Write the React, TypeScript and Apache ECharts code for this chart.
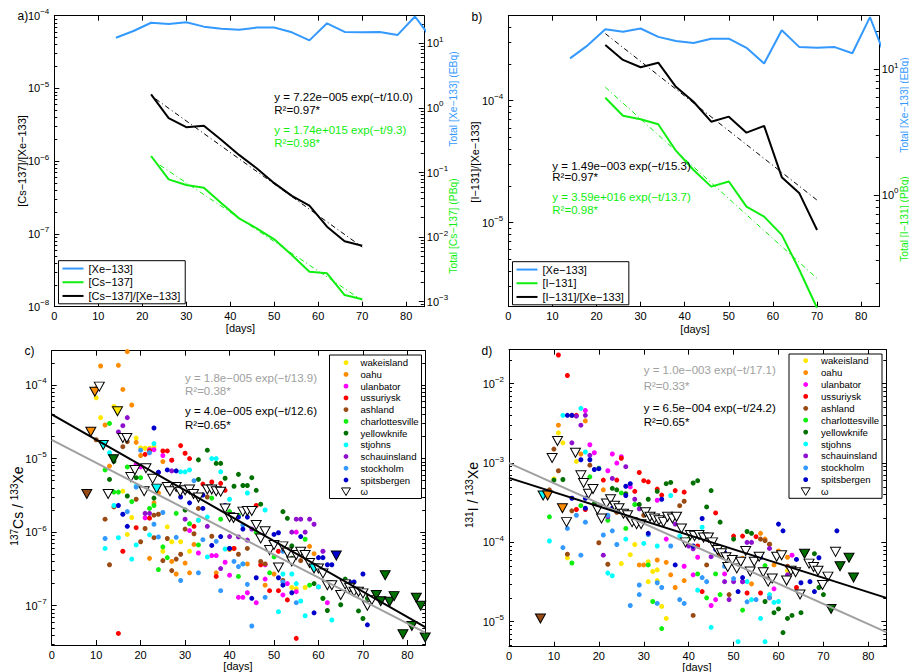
import React, { useEffect, useRef } from 'react';
import * as echarts from 'echarts';

const FONT = '"Liberation Sans", Arial, Helvetica, sans-serif';
const BLUE = '#3399FF';
const GREEN = '#10EE10';
const GRAY = '#A0A0A0';

// ---------- panels a / b ----------
const xeDays = [14, 18, 22, 26, 30, 34, 38, 42, 46, 50, 54, 58, 62, 66, 70, 74, 78, 82, 86];
const xe133 = [12.2, 15.5, 20.8, 19.9, 21.1, 18.1, 16.8, 16.2, 17.5, 17.5, 14.8, 11.1, 20.4, 15.0, 14.8, 15.0, 13.4, 26.0, 11.2];
const ratioDays = [22, 26, 30, 34, 38, 42, 46, 50, 54, 58, 62, 66, 70];
const cs137 = [0.18, 0.0783, 0.0641, 0.0582, 0.0333, 0.0195, 0.01368, 0.00925, 0.00528, 0.00292, 0.00275, 0.00127, 0.00109];
const csRatio = [8.3e-6, 3.9e-6, 2.93e-6, 3.08e-6, 1.96e-6, 1.22e-6, 8.0e-7, 4.99e-7, 3.34e-7, 2.45e-7, 1.26e-7, 7.96e-8, 6.9e-8];
const i131 = [5.94, 4.27, 4.0, 3.65, 2.25, 1.58, 1.165, 1.28, 0.808, 0.672, 0.481, 0.253, 0.126];
const iRatio = [2.86e-4, 2.16e-4, 1.88e-4, 2.05e-4, 1.3e-4, 9.8e-5, 6.73e-5, 7.4e-5, 5.47e-5, 6.21e-5, 2.36e-5, 1.74e-5, 8.7e-6];
const csRatioFit = [[23, 7.2e-6], [70, 6.6e-8]];
const csFit = [[24, 0.13], [70, 0.00105]];
const iRatioFit = [[22, 3.55e-4], [70, 1.53e-5]];
const iFit = [[22, 7.2], [70, 0.217]];

// ---------- panels c / d ----------
const stationNames = ['wakeisland', 'oahu', 'ulanbator', 'ussuriysk', 'ashland', 'charlottesville', 'yellowknife', 'stjohns', 'schauinsland', 'stockholm', 'spitsbergen'];
const stationColors = ['#FFE800', '#FF8C00', '#FF00FF', '#FF0000', '#9A4B14', '#10EE10', '#007000', '#00FFFF', '#9010D0', '#3399FF', '#0000CC'];

const wakeC = [[10, 6.7e-5], [11, 3.6e-5], [14, 5.1e-5], [19, 1.9e-5], [20, 1.4e-5], [21, 1.38e-5], [22, 1.38e-5], [23, 1.45e-5], [16, 3.6e-6], [18, 1.58e-6], [17, 9.3e-7], [26, 1.18e-6], [25, 5.5e-7], [27, 7.4e-7], [29, 7.4e-7], [31, 5.5e-7], [54, 1.77e-7], [55, 1.7e-7], [57, 1.77e-7]];
const oahuC = [[10, 9.0e-5], [11, 1.81e-4], [15, 1.85e-4], [17, 2.84e-4], [16, 8.7e-5], [18, 5.35e-5], [12, 2.86e-5], [13, 7.9e-6], [19, 1.66e-5], [20, 1.1e-5], [24, 3.4e-6], [25, 9.1e-6], [23, 2.5e-6], [22, 4.4e-7], [27, 4.0e-7], [28, 2.7e-7], [30, 3.8e-7], [31, 2.8e-7], [32, 6.8e-7], [33, 1.46e-6], [37, 2.8e-7], [40, 5.8e-7], [41, 6.0e-7], [44, 3.7e-7], [46, 1.0e-6], [48, 1.9e-7], [50, 2.7e-7], [58, 6.4e-7], [59, 5.1e-7], [61, 3.0e-7]];
const ulanC = [[19, 8.3e-6], [20, 7.7e-6], [21, 1.57e-6], [22, 1.32e-5], [23, 1.32e-5], [25, 1.1e-5], [27, 9.5e-6], [30, 3.6e-6], [31, 1.05e-6], [33, 5.2e-7], [36, 4.8e-7], [37, 4.8e-7], [39, 3.9e-7], [40, 2.6e-7], [42, 1.3e-7], [43, 1.3e-7], [44, 1.5e-7], [46, 1.1e-7], [48, 3.6e-7], [48, 2.3e-7], [52, 1.4e-7], [53, 2.0e-7], [55, 1.55e-7], [55, 1.0e-6], [60, 1.8e-7], [62, 1.1e-7]];
const ussurC = [[15, 4.2e-8], [16, 5.5e-7], [19, 1.15e-6], [21, 1.14e-5], [22, 1.27e-5], [22, 1.55e-6], [25, 1.27e-5], [26, 1.27e-5], [27, 9.5e-6], [29, 1.5e-5], [30, 1.18e-5], [31, 1.0e-5], [32, 1.2e-6], [34, 4.5e-6], [36, 4.8e-6], [38, 4.6e-6], [39, 3.7e-6], [37, 2.5e-7], [41, 6.0e-7], [46, 2.3e-6], [47, 3.6e-7], [49, 1.6e-7], [51, 1.6e-7], [53, 1.2e-7], [51, 5.5e-7], [55, 3.6e-8]];
const ashC = [[10, 1.8e-5], [12, 1.5e-6], [13, 3.6e-7], [14, 2.2e-6], [16, 1.45e-5], [17, 1.7e-5], [19, 2.8e-6], [20, 7.4e-7], [21, 1.12e-6], [23, 8.4e-7], [23, 1.7e-6], [24, 1.75e-6], [25, 4.1e-7], [26, 8.2e-7], [27, 3.0e-7], [28, 4.3e-7], [29, 5.0e-7], [30, 1.1e-6], [32, 9.5e-7], [33, 2.1e-6], [35, 3.0e-6], [36, 8.8e-7], [40, 6.0e-7], [42, 5.0e-7], [44, 6.0e-7], [47, 4.0e-7], [48, 3.7e-7], [52, 2.2e-7], [56, 4.1e-7]];
const charC = [[12, 7.0e-6], [13, 3.0e-5], [14, 3.5e-6], [15, 3.5e-6], [17, 7.7e-6], [18, 2.6e-6], [20, 5.5e-6], [22, 2.1e-6], [23, 2.3e-6], [24, 3.1e-7], [25, 6.3e-7], [26, 4.5e-7], [28, 1.8e-6], [31, 1.3e-6], [33, 6.7e-7], [36, 2.9e-6], [38, 1.5e-6], [40, 1.9e-6], [42, 1.7e-6], [42, 2.5e-7], [46, 1.0e-6], [49, 2.8e-7], [50, 4.6e-7], [57, 8.0e-7], [58, 1.9e-7], [61, 1.26e-7]];
const yellowC = [[13, 5.2e-6], [14, 9.2e-6], [17, 3.1e-6], [19, 5.5e-6], [23, 2.9e-6], [30, 2.0e-6], [33, 9.6e-6], [33, 5.2e-6], [35, 1.3e-5], [37, 8.6e-6], [38, 8.6e-6], [39, 5.4e-6], [41, 4.2e-6], [42, 6.1e-6], [43, 4.3e-6], [44, 4.3e-6], [45, 5.5e-6], [46, 3.7e-6], [47, 2.4e-6], [47, 9.0e-7], [52, 1.9e-6], [53, 1.54e-6], [54, 6.5e-7], [54, 4.4e-7], [59, 2.0e-7], [61, 1.26e-7], [62, 8.6e-8], [65, 1.03e-7], [66, 2.3e-7], [67, 2.0e-7], [69, 8.5e-8], [70, 6.7e-8], [71, 1.26e-7]];
const stjC = [[12, 6.0e-7], [13, 1.2e-5], [14, 2.3e-6], [15, 8.4e-7], [18, 4.3e-7], [19, 4.2e-6], [19, 6.7e-7], [22, 9.2e-7], [23, 1.6e-5], [26, 4.4e-6], [29, 6.6e-6], [30, 6.6e-6], [31, 7.0e-6], [33, 1.45e-6], [35, 4.6e-7], [35, 1.6e-6], [36, 1.0e-5], [37, 1.0e-5], [38, 6.6e-6], [39, 5.9e-7], [40, 2.8e-6], [43, 3.7e-7], [44, 3.4e-6], [48, 2.0e-6], [51, 8.3e-8], [52, 2.7e-7], [54, 2.7e-7], [55, 2.0e-7], [56, 1.16e-7], [57, 7.3e-8], [60, 1.8e-7], [63, 6.4e-8]];
const schauC = [[15, 2.3e-5], [16, 2.8e-5], [17, 3.6e-5], [19, 7.7e-6], [21, 1.8e-6], [22, 1.8e-6], [24, 6.5e-6], [27, 6.8e-6], [30, 1.5e-6], [35, 1.2e-6], [38, 3.2e-7], [40, 8.7e-7], [42, 8.6e-7], [44, 7.8e-7], [45, 1.1e-6], [54, 1.0e-6], [55, 1.5e-6], [56, 1.5e-6], [57, 1.0e-6], [58, 1.5e-6], [59, 1.28e-6], [61, 5.5e-7]];
const stockC = [[12, 8.2e-7], [17, 1.9e-6], [19, 4.1e-6], [20, 1.3e-5], [22, 1.2e-5], [23, 1.28e-6], [24, 8.6e-7], [25, 1.85e-6], [28, 8.5e-7], [29, 2.2e-7], [32, 5.0e-6], [33, 2.8e-7], [34, 7.9e-7], [37, 7.5e-7], [38, 1.6e-7], [41, 4.0e-7], [42, 3.4e-7], [43, 3.7e-7], [43, 1.25e-6], [44, 1.95e-7], [45, 5.3e-8], [48, 1.3e-7], [52, 2.1e-7], [52, 5.5e-7], [53, 2.9e-8], [55, 1.1e-7]];
const spitsC = [[15, 2.3e-6], [16, 1.75e-6], [17, 1.2e-6], [23, 2.6e-5], [24, 6.5e-6], [26, 7.0e-6], [28, 6.8e-6], [29, 3.0e-6], [31, 2.5e-6], [34, 3.2e-6], [34, 2.1e-6], [36, 6.6e-7], [38, 8.7e-7], [39, 2.3e-6], [40, 6.0e-7], [42, 1.6e-6], [43, 1.1e-6], [44, 1.6e-6], [45, 1.26e-7], [46, 2.4e-7], [50, 9.3e-7], [51, 9.8e-7], [51, 2.4e-7], [52, 1.9e-7], [54, 1.5e-7], [56, 8.7e-7], [59, 8.0e-8], [60, 4.5e-7], [61, 4.5e-7], [62, 3.6e-7], [63, 3.6e-7], [64, 4.8e-7], [67, 2.1e-7], [68, 2.1e-7], [70, 2.7e-7], [71, 5.5e-8]];
// [day, value, station index of the fill (-1 = none)]
const omegaC = [[7.9, 3.3e-6, 4], [9.7, 8.1e-5, 1], [10.7, 9.5e-5, -1], [8.8, 2.32e-5, 1], [11.6, 1.53e-5, 7], [12.7, 3.3e-6, -1], [13.9, 9.8e-6, 6], [14.8, 4.4e-5, 0], [16, 1.9e-5, -1], [16.9, 1.9e-5, -1], [17.8, 5.6e-6, -1], [18.7, 7.0e-6, -1], [21.2, 7.4e-6, -1], [20.8, 3.6e-6, -1], [22.7, 5.3e-6, -1], [23.6, 3.9e-6, 7], [26, 4.1e-6, -1], [26.6, 3.6e-6, -1], [28, 4.1e-6, -1], [28.9, 3.55e-6, -1], [30, 3.7e-6, -1], [31, 3.8e-6, -1], [31.9, 3.3e-6, -1], [33, 2.95e-6, -1], [35, 3.8e-6, -1], [36, 3.8e-6, -1], [37, 3.6e-6, -1], [38, 3.55e-6, -1], [39, 2.1e-6, -1], [40, 1.6e-6, -1], [40.9, 1.56e-6, -1], [43, 1.9e-6, -1], [44, 1.94e-6, -1], [45, 1.94e-6, -1], [46, 1.25e-6, -1], [47, 8.2e-7, -1], [48, 1.03e-6, -1], [49, 5.7e-7, -1], [50, 6.7e-7, -1], [51, 3.3e-7, -1], [52, 6.4e-7, -1], [53, 5.3e-7, -1], [54, 4.0e-7, -1], [55, 4.9e-7, -1], [56, 5.4e-7, -1], [57, 4.9e-7, -1], [58, 3.8e-7, -1], [59, 3.2e-7, 7], [60, 3.2e-7, -1], [61, 2.75e-7, -1], [62, 1.9e-7, -1], [63, 1.9e-7, -1], [64, 4.8e-7, 10], [65, 1.4e-7, -1], [66, 1.95e-7, -1], [67, 1.75e-7, -1], [68, 1.55e-7, -1], [69, 1.55e-7, -1], [70, 1.47e-7, -1], [71, 1.0e-7, -1], [72, 1.2e-7, -1], [73, 1.4e-7, 6], [74, 1.15e-7, 6], [75, 2.6e-7, 6], [76, 1.13e-7, 6], [77, 1.35e-7, 6], [79, 4.1e-8, 6], [81, 5.3e-8, 6], [82, 1.28e-7, 6], [83, 1.0e-7, 6], [84, 3.7e-8, 6]];
const fitGrayC = [[0, 1.8e-5], [84, 4.3e-8]];
const fitBlackC = [[0, 4.0e-5], [84, 5.1e-8]];

const wakeD = [[10, 6.3e-4], [11, 2.4e-3], [12, 1.8e-3], [13, 6.4e-5], [15, 1.05e-3], [25, 5.4e-5], [27, 7.0e-5], [28, 9.4e-5], [31, 5.7e-5], [32, 4.3e-5], [31, 3.2e-5], [33, 4.5e-5], [33, 3.3e-5], [34, 1.56e-5], [35, 1.1e-5], [62, 4.4e-5]];
const oahuD = [[11, 3.0e-3], [16, 1.3e-3], [17, 3.4e-3], [21, 4.6e-4], [29, 5.2e-5], [30, 5.2e-5], [33, 6.0e-5], [35, 5.6e-5], [36, 3.9e-5], [37, 2.7e-5], [39, 3.3e-5], [47, 7.0e-5], [52, 6.3e-5], [54, 3.0e-5], [56, 1.3e-4], [57, 1.1e-4], [58, 9.5e-5], [59, 5.2e-5], [60, 7.8e-5], [62, 6.5e-5]];
const ulanD = [[17, 4.6e-3], [18, 1.7e-3], [19, 1.35e-3], [22, 8.0e-4], [23, 1.3e-3], [24, 1.0e-3], [25, 1.2e-3], [27, 5.0e-4], [33, 3.4e-4], [35, 1.1e-4], [39, 5.0e-5], [41, 3.9e-5], [42, 6.5e-5], [45, 1.6e-5], [46, 1.9e-5], [48, 4.0e-5], [50, 4.7e-6], [52, 3.2e-5], [59, 2.6e-5], [63, 6.9e-5]];
const ussurD = [[11, 2.3e-2], [12, 2.7e-2], [13, 1.27e-2], [14, 4.0e-3], [15, 4.0e-3], [15, 2.6e-4], [17, 2.6e-4], [21, 6.1e-4], [24, 6.1e-4], [25, 1.15e-3], [28, 4.4e-4], [29, 7.6e-4], [30, 6.0e-4], [31, 5.8e-4], [33, 4.7e-4], [34, 3.95e-4], [37, 4.5e-4], [39, 4.3e-4], [42, 9.0e-5], [43, 2.4e-5], [46, 2.35e-4], [50, 1.2e-4], [52, 1.2e-4], [53, 2.3e-5], [55, 1.18e-4], [56, 2.3e-5], [58, 2.0e-5], [64, 2.7e-5]];
const ashD = [[9, 4.6e-4], [10, 1.5e-3], [11, 8.0e-4], [13, 7.1e-5], [14, 2.5e-4], [18, 9.4e-4], [20, 9.9e-5], [22, 5.3e-5], [24, 2.4e-4], [27, 1.9e-4], [30, 2.2e-4], [34, 1.9e-4], [38, 2.9e-4], [39, 3.3e-4], [41, 1.2e-5], [44, 5.2e-5], [47, 6.8e-5], [49, 2.2e-5], [56, 1.1e-4], [57, 1.05e-4], [58, 9.5e-5], [62, 5.0e-5]];
const charD = [[9, 2.1e-4], [14, 5.5e-5], [16, 2.9e-4], [18, 6.7e-4], [20, 8.6e-4], [22, 1.9e-4], [25, 4.2e-4], [26, 1.5e-4], [28, 3.0e-4], [31, 5.2e-5], [32, 1.8e-5], [34, 8.2e-6], [40, 1.1e-4], [42, 4.0e-5], [44, 2.0e-5], [46, 4.0e-5], [47, 2.2e-5], [50, 6.5e-5], [52, 1.4e-5], [57, 5.1e-5]];
const yellowD = [[10, 6.1e-4], [12, 6.2e-4], [19, 3.1e-4], [23, 4.8e-4], [24, 4.6e-4], [26, 4.1e-4], [29, 3.0e-4], [31, 3.5e-4], [33, 4.4e-4], [35, 5.5e-4], [36, 5.7e-4], [41, 5.6e-4], [42, 6.0e-4], [44, 2.8e-4], [45, 4.5e-4], [47, 1.8e-4], [50, 1.1e-4], [53, 1.37e-4], [54, 1.3e-4], [57, 1.8e-5], [59, 1.3e-5], [60, 1.45e-5], [61, 7.3e-6], [62, 1.1e-5], [63, 1.2e-5], [65, 1.3e-5], [66, 7.5e-5], [68, 7.2e-5], [69, 2.7e-5], [70, 2.2e-5]];
const stjD = [[9, 1.04e-4], [12, 4.0e-3], [16, 4.9e-3], [17, 1.38e-3], [22, 4.1e-5], [23, 3.8e-5], [26, 1.1e-4], [30, 9.7e-5], [33, 9.0e-5], [36, 3.9e-4], [38, 1.2e-4], [42, 2.5e-5], [43, 1.55e-4], [45, 8.5e-6], [51, 5.6e-6], [53, 3.2e-5], [54, 1.9e-5], [56, 1.1e-5], [57, 5.6e-6], [58, 2.2e-5], [59, 1.75e-5], [60, 1.8e-5]];
const schauD = [[14, 1.8e-3], [15, 3.9e-3], [16, 3.0e-3], [17, 4.0e-3], [18, 1.25e-3], [21, 6.9e-5], [22, 2.1e-4], [23, 6.4e-4], [24, 3.0e-4], [26, 9.0e-4], [28, 3.5e-4], [29, 2.65e-4], [37, 1.7e-4], [40, 9.0e-5], [41, 8.3e-5], [45, 6.6e-5], [48, 3.2e-5], [49, 1.9e-5], [50, 3.2e-5], [52, 3.2e-5], [53, 1.0e-4], [54, 1.0e-4], [55, 6.6e-5], [58, 8.4e-5], [62, 3.9e-5]];
const stockD = [[12, 8.6e-5], [13, 1.5e-4], [15, 2.2e-4], [16, 6.9e-5], [17, 1.8e-4], [21, 1.24e-4], [22, 2.2e-4], [23, 1.4e-4], [24, 9.4e-5], [27, 1.6e-5], [29, 2.2e-5], [29, 2.9e-5], [31, 1.25e-4], [33, 3.1e-5], [33, 1.7e-5], [34, 2.7e-5], [36, 9.0e-5], [38, 1.9e-5], [39, 1.7e-5], [43, 3.6e-5], [44, 3.2e-5], [48, 5.0e-5], [50, 3.5e-5], [53, 1.78e-5], [55, 1.9e-5], [58, 2.0e-5]];
const spitsD = [[13, 4.0e-3], [14, 4.0e-3], [14, 3.6e-4], [16, 1.1e-3], [17, 3.6e-4], [17, 2.7e-4], [18, 1.1e-3], [19, 8.3e-4], [20, 8.5e-4], [23, 2.7e-4], [26, 5.1e-4], [26, 3.9e-4], [27, 5.5e-4], [31, 1.3e-4], [34, 3.5e-4], [37, 5.2e-5], [41, 9.0e-5], [43, 2.0e-4], [46, 8.2e-5], [48, 7.5e-5], [51, 2.4e-5], [52, 3.6e-5], [56, 6.5e-5], [60, 1.7e-4], [61, 1.4e-4], [64, 6.1e-5], [65, 3.1e-5], [67, 3.2e-5], [68, 2.4e-5], [69, 6.4e-5], [73, 1.4e-4]];
const omegaD = [[7, 1.1e-5, 4], [7.6, 3.9e-4, 7], [8.6, 3.9e-4, 1], [9.6, 1.16e-3, -1], [10.8, 1.9e-3, -1], [11.9, 2.7e-4, 1], [12.8, 1.8e-4, -1], [14.8, 1.35e-3, -1], [16, 7.0e-4, -1], [16.6, 5.6e-4, -1], [17.7, 4.1e-4, -1], [18.7, 4.7e-4, -1], [19.7, 2.6e-4, -1], [20.6, 2.0e-4, -1], [21.7, 3.1e-4, -1], [22.6, 3.5e-4, -1], [23.5, 2.9e-4, -1], [24.5, 2.7e-4, -1], [25.5, 2.3e-4, -1], [26.4, 2.2e-4, -1], [27.4, 1.8e-4, -1], [28.4, 1.7e-4, -1], [29.4, 1.7e-4, -1], [30.4, 2.4e-4, -1], [31.4, 2.1e-4, -1], [32.4, 2.0e-4, -1], [33.4, 1.9e-4, -1], [34.4, 1.8e-4, -1], [35.3, 2.1e-4, -1], [36.4, 2.0e-4, -1], [37.3, 2.1e-4, -1], [38.4, 1.5e-4, -1], [39.3, 1.0e-4, -1], [40.4, 1.24e-4, -1], [41.3, 1.2e-4, -1], [42.3, 1.24e-4, -1], [43.3, 1.15e-4, -1], [44.4, 1.15e-4, -1], [45.3, 1.0e-4, -1], [46.4, 8.0e-5, -1], [47.3, 7.3e-5, -1], [48.3, 6.5e-5, -1], [48.7, 4.9e-5, -1], [49.7, 6.0e-5, -1], [50.7, 4.7e-5, -1], [51.6, 5.7e-5, -1], [52.7, 7.8e-5, -1], [53.7, 4.3e-5, -1], [54.6, 5.7e-5, -1], [55.7, 6.6e-5, -1], [56.6, 4.2e-5, -1], [57.7, 3.2e-5, -1], [58.6, 3.5e-5, -1], [59.6, 6.6e-5, -1], [60.7, 6.9e-5, -1], [61.8, 3.3e-5, -1], [62.8, 4.4e-5, -1], [63.8, 4.2e-5, -1], [64.8, 2.2e-5, -1], [65.8, 7.2e-5, 6], [66.8, 5.4e-5, -1], [67.8, 4.9e-5, -1], [68.8, 4.4e-5, -1], [69.8, 2.9e-5, -1], [71, 3.7e-5, -1], [71.7, 1.45e-5, 6], [72.7, 7.6e-5, -1], [73.7, 5.0e-5, 6], [75.7, 6.4e-5, 6], [76.7, 3.6e-5, 6]];
const fitGrayD = [[0, 1.0e-3], [84, 7.4e-6]];
const fitBlackD = [[0, 6.5e-4], [84, 2.0e-5]];

const stationsC = [wakeC, oahuC, ulanC, ussurC, ashC, charC, yellowC, stjC, schauC, stockC, spitsC];
const stationsD = [wakeD, oahuD, ulanD, ussurD, ashD, charD, yellowD, stjD, schauD, stockD, spitsD];

// ---------- helpers ----------
const zip = (xs: number[], ys: number[]) => xs.map((x, i) => [x, ys[i]]);
const p10 = (e: number) => Math.pow(10, e);

const minorTicks = (min: number, max: number) => {
  const out: number[] = [];
  const lo = Math.floor(Math.log10(min));
  const hi = Math.ceil(Math.log10(max));
  for (let e = lo; e <= hi; e++) for (let m = 2; m <= 9; m++) {
    const v = m * Math.pow(10, e);
    if (v > min && v < max) out.push(v);
  }
  return out;
};

const expLabel = (v: number) => {
  const e = Math.round(Math.log10(v));
  return '{b|10}{s|' + (e < 0 ? '\u2212' + -e : String(e)) + '}';
};
const expRich = {
  b: { fontSize: 11, fontFamily: FONT, color: '#000', lineHeight: 16 },
  s: { fontSize: 8, fontFamily: FONT, color: '#000', verticalAlign: 'top', lineHeight: 8 },
};

const axLine = { show: true, onZero: false, lineStyle: { color: '#000', width: 1 } };

const xAx = (gi: number, pos: string) => ({
  type: 'value', gridIndex: gi, position: pos, min: 0, max: 84, interval: 10,
  axisLine: axLine, splitLine: { show: false },
  axisTick: { show: true, inside: true, length: 5, lineStyle: { color: '#000' } },
  axisLabel: pos === 'bottom'
    ? { show: true, color: '#000', fontSize: 11, fontFamily: FONT, margin: 4, showMinLabel: true, showMaxLabel: false }
    : { show: false },
});

const yAx = (gi: number, pos: string, min: number, max: number, labels: boolean, edge = false) => ({
  type: 'log', logBase: 10, gridIndex: gi, position: pos, min, max,
  axisLine: axLine, splitLine: { show: false },
  axisTick: { show: true, inside: true, length: 5, lineStyle: { color: '#000' } },
  axisLabel: labels
    ? { show: true, formatter: expLabel, rich: expRich, margin: pos === 'left' ? 5 : 3, showMinLabel: edge, showMaxLabel: edge }
    : { show: false },
});

const yMinor = (gi: number, pos: string, min: number, max: number) => ({
  type: 'log', logBase: 10, gridIndex: gi, position: pos, min, max,
  axisLine: { show: false, onZero: false }, splitLine: { show: false },
  axisLabel: { show: false },
  axisTick: { show: true, inside: true, length: 3, lineStyle: { color: '#000' }, customValues: minorTicks(min, max) },
});

const lineS = (name: string, xi: number, yi: number, data: number[][], color: string, width = 2, type: any = 'solid', z = 3) => ({
  type: 'line', name, xAxisIndex: xi, yAxisIndex: yi, data, symbol: 'none', showSymbol: false,
  lineStyle: { color, width, type }, itemStyle: { color }, z, silent: true,
});

const scatterSet = (sets: number[][][], omega: number[][], xi: number, yi: number) => {
  const out: any[] = sets.map((d, i) => ({
    type: 'scatter', name: stationNames[i], xAxisIndex: xi, yAxisIndex: yi, data: d,
    symbol: 'circle', symbolSize: 5, itemStyle: { color: stationColors[i], opacity: 1 }, z: 2, silent: true,
  }));
  out.push({
    type: 'scatter', name: '\u03c9', xAxisIndex: xi, yAxisIndex: yi,
    data: omega.map(([d, v, f]) => ({ value: [d, v], itemStyle: { color: f < 0 ? '#FFFFFF' : stationColors[f] } })),
    symbol: 'triangle', symbolRotate: 180, symbolSize: [10, 9],
    itemStyle: { borderColor: '#000', borderWidth: 1, opacity: 1 }, z: 3, silent: true,
  });
  return out;
};

const txt = (x: number, y: number, text: string, o: any = {}) => ({
  type: 'text', x, y, rotation: o.rot || 0, z: 100, silent: true,
  style: {
    text, fill: o.color || '#000', fontSize: o.size || 11, fontFamily: FONT,
    align: o.align || 'left', verticalAlign: 'middle', rich: o.rich, lineHeight: o.lh,
  },
});

const scatterLegend = (left: number, top: number, w: number, h: number, mx: number, tx: number, y0: number, gap: number) => {
  const els: any[] = [{
    type: 'rect', z: 99, silent: true, shape: { x: left, y: top, width: w, height: h },
    style: { fill: '#fff', stroke: '#000', lineWidth: 1 },
  }];
  stationNames.forEach((n, i) => {
    const y = y0 + i * gap;
    els.push({ type: 'circle', z: 100, silent: true, shape: { cx: mx, cy: y, r: 2.4 }, style: { fill: stationColors[i] } });
    els.push(txt(tx, y, n, { size: 9.6 }));
  });
  const yo = y0 + 11 * gap;
  els.push({
    type: 'polygon', z: 100, silent: true,
    shape: { points: [[mx - 4.5, yo - 3.8], [mx + 4.5, yo - 3.8], [mx, yo + 3.8]] },
    style: { fill: '#fff', stroke: '#000', lineWidth: 1 },
  });
  els.push(txt(tx, yo, '\u03c9', { size: 9.6 }));
  return els;
};

function buildOption() {
  const aL: [number, number] = [1e-8, 1e-4];
  const aR: [number, number] = [p10(-3.077), p10(1.427)];
  const bL: [number, number] = [p10(-5.689), p10(-3.303)];
  const bR: [number, number] = [p10(-0.889), p10(1.426)];
  const cL: [number, number] = [p10(-7.534), p10(-3.534)];
  const dL: [number, number] = [p10(-5.315), p10(-1.571)];

  const xe = zip(xeDays, xe133);
  const dash = [5, 3, 1, 3];
  const supRich = { s: { fontSize: 10, fontFamily: FONT, verticalAlign: 'top', lineHeight: 10, fill: '#000' } };

  return {
    animation: false,
    backgroundColor: '#fff',
    textStyle: { fontFamily: FONT },
    grid: [
      { left: 54.3, top: 15.7, width: 369.5, height: 291 },
      { left: 508.3, top: 15.7, width: 370.5, height: 291 },
      { left: 51.7, top: 350.7, width: 373.5, height: 294.3 },
      { left: 509, top: 349.7, width: 377.3, height: 297 },
    ],
    xAxis: [xAx(0, 'bottom'), xAx(0, 'top'), xAx(1, 'bottom'), xAx(1, 'top'), xAx(2, 'bottom'), xAx(2, 'top'), xAx(3, 'bottom'), xAx(3, 'top')],
    yAxis: [
      yAx(0, 'left', aL[0], aL[1], true, true), yMinor(0, 'left', aL[0], aL[1]),
      yAx(0, 'right', aR[0], aR[1], true), yMinor(0, 'right', aR[0], aR[1]),
      yAx(1, 'left', bL[0], bL[1], true), yMinor(1, 'left', bL[0], bL[1]),
      yAx(1, 'right', bR[0], bR[1], true), yMinor(1, 'right', bR[0], bR[1]),
      yAx(2, 'left', cL[0], cL[1], true), yMinor(2, 'left', cL[0], cL[1]),
      yAx(2, 'right', cL[0], cL[1], false), yMinor(2, 'right', cL[0], cL[1]),
      yAx(3, 'left', dL[0], dL[1], true), yMinor(3, 'left', dL[0], dL[1]),
      yAx(3, 'right', dL[0], dL[1], false), yMinor(3, 'right', dL[0], dL[1]),
    ],
    legend: [
      {
        data: ['[Xe\u2212133]', '[Cs\u2212137]', '[Cs\u2212137]/[Xe\u2212133]'],
        orient: 'vertical', left: 58.5, top: 260.7, icon: 'rect', itemWidth: 21, itemHeight: 2, itemGap: 0,
        padding: [1, 5, 1, 4], borderColor: '#000', borderWidth: 1, backgroundColor: '#fff', selectedMode: false,
        itemStyle: { borderWidth: 0 },
        textStyle: { fontSize: 11, fontFamily: FONT, color: '#000', lineHeight: 13.7 },
      },
      {
        data: ['[Xe\u2212133]', '[I\u2212131]', '[I\u2212131]/[Xe\u2212133]'],
        orient: 'vertical', left: 512.5, top: 261.7, icon: 'rect', itemWidth: 21, itemHeight: 2, itemGap: 0,
        padding: [1, 5, 1, 4], borderColor: '#000', borderWidth: 1, backgroundColor: '#fff', selectedMode: false,
        itemStyle: { borderWidth: 0 },
        textStyle: { fontSize: 11, fontFamily: FONT, color: '#000', lineHeight: 13.7 },
      },
    ],
    series: [
      lineS('[Xe\u2212133]', 0, 2, xe, BLUE),
      lineS('[Cs\u2212137]', 0, 2, zip(ratioDays, cs137), GREEN),
      lineS('[Cs\u2212137]/[Xe\u2212133]', 0, 0, zip(ratioDays, csRatio), '#000'),
      lineS('fitA1', 0, 0, csRatioFit, '#000', 1, dash, 4),
      lineS('fitA2', 0, 2, csFit, GREEN, 1, dash, 4),

      lineS('[Xe\u2212133]', 2, 6, xe, BLUE),
      lineS('[I\u2212131]', 2, 6, zip(ratioDays, i131), GREEN),
      lineS('[I\u2212131]/[Xe\u2212133]', 2, 4, zip(ratioDays, iRatio), '#000'),
      lineS('fitB1', 2, 4, iRatioFit, '#000', 1, dash, 4),
      lineS('fitB2', 2, 6, iFit, GREEN, 1, dash, 4),

      ...scatterSet(stationsC, omegaC, 4, 8),
      lineS('fitC1', 4, 8, fitGrayC, GRAY, 2, 'solid', 5),
      lineS('fitC2', 4, 8, fitBlackC, '#000', 2, 'solid', 5),

      ...scatterSet(stationsD, omegaD, 6, 12),
      lineS('fitD1', 6, 12, fitGrayD, GRAY, 2, 'solid', 5),
      lineS('fitD2', 6, 12, fitBlackD, '#000', 2, 'solid', 5),
    ],
    graphic: [
      txt(17.5, 15.5, 'a)', { size: 12 }),
      txt(471.5, 16.5, 'b)', { size: 12 }),
      txt(24.5, 350.5, 'c)', { size: 12 }),
      txt(481.5, 350.5, 'd)', { size: 12 }),

      txt(22, 161, '[Cs\u2212137]/[Xe\u2212133]', { rot: Math.PI / 2, align: 'center' }),
      txt(453.5, 99, 'Total [Xe\u2212133] (EBq)', { rot: Math.PI / 2, align: 'center', color: BLUE, size: 10.3 }),
      txt(453.5, 226, 'Total [Cs\u2212137] (PBq)', { rot: Math.PI / 2, align: 'center', color: GREEN, size: 10.3 }),
      txt(475, 162, '[I\u2212131]/[Xe\u2212133]', { rot: Math.PI / 2, align: 'center' }),
      txt(904.5, 105, 'Total [Xe\u2212133] (EBq)', { rot: Math.PI / 2, align: 'center', color: BLUE, size: 10.3 }),
      txt(904.5, 219, 'Total [I\u2212131] (PBq)', { rot: Math.PI / 2, align: 'center', color: GREEN, size: 10.3 }),
      txt(18, 506, '{s|137}Cs / {s|133}Xe', { rot: Math.PI / 2, align: 'center', size: 14, lh: 17, rich: supRich }),
      txt(473, 495, '{s|131}I / {s|133}Xe', { rot: Math.PI / 2, align: 'center', size: 14, lh: 17, rich: supRich }),

      txt(240.5, 328, '[days]', { align: 'center' }),
      txt(695, 329, '[days]', { align: 'center' }),
      txt(238, 665.7, '[days]', { align: 'center' }),
      txt(697, 667, '[days]', { align: 'center' }),

      txt(274.3, 96.7, 'y = 7.22e\u2212005 exp(\u2212t/10.0)', { size: 11.5 }),
      txt(274.3, 109.5, 'R\u00b2=0.97*', { size: 11.5 }),
      txt(274.3, 130, 'y = 1.74e+015 exp(\u2212t/9.3)', { size: 11.5, color: GREEN }),
      txt(274.3, 143.3, 'R\u00b2=0.98*', { size: 11.5, color: GREEN }),

      txt(552.3, 165.7, 'y = 1.49e\u2212003 exp(\u2212t/15.3)', { size: 11.5 }),
      txt(552.3, 176.5, 'R\u00b2=0.97*', { size: 11.5 }),
      txt(552.3, 196.7, 'y = 3.59e+016 exp(\u2212t/13.7)', { size: 11.5, color: GREEN }),
      txt(552.3, 210, 'R\u00b2=0.98*', { size: 11.5, color: GREEN }),

      txt(185, 377.7, 'y = 1.8e\u2212005 exp(\u2212t/13.9)', { size: 11.5, color: GRAY }),
      txt(185, 390.5, 'R\u00b2=0.38*', { size: 11.5, color: GRAY }),
      txt(185, 411, 'y = 4.0e\u2212005 exp(\u2212t/12.6)', { size: 11.5 }),
      txt(185, 425, 'R\u00b2=0.65*', { size: 11.5 }),

      txt(643.7, 370, 'y = 1.0e\u2212003 exp(\u2212t/17.1)', { size: 11.5, color: GRAY }),
      txt(643.7, 385.7, 'R\u00b2=0.33*', { size: 11.5, color: GRAY }),
      txt(643.7, 407.7, 'y = 6.5e\u2212004 exp(\u2212t/24.2)', { size: 11.5 }),
      txt(643.7, 422.3, 'R\u00b2=0.65*', { size: 11.5 }),

      ...scatterLegend(329.5, 355, 92, 143.5, 346, 360.5, 362.7, 11.73),
      ...scatterLegend(789, 354, 93, 144.3, 805.7, 821, 360.7, 11.9),
    ],
  };
}

export default function App() {
  const ref = useRef<HTMLDivElement>(null);
  useEffect(() => {
    document.body.style.margin = '0';
    const chart = echarts.init(ref.current as HTMLDivElement, null, { renderer: 'svg' });
    chart.setOption(buildOption() as any);
    return () => chart.dispose();
  }, []);
  return <div ref={ref} style={{ width: 909, height: 672, background: '#fff' }} />;
}
